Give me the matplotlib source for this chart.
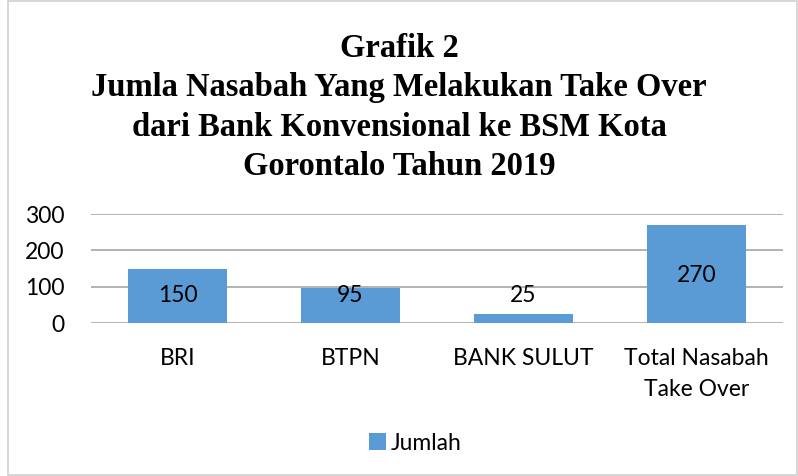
import matplotlib
matplotlib.use("Agg")
import matplotlib.pyplot as plt
from matplotlib.patches import Rectangle

# data
categories = ["BRI", "BTPN", "BANK SULUT", "Total Nasabah\nTake Over"]
jumlah = [150, 95, 25, 270]
label_y = [75, 75, 75, 132]  # where Excel put the data labels
yticks = [0, 100, 200, 300]

plt.rcParams['font.family'] = ['Lato', 'DejaVu Sans']

fig = plt.figure(figsize=(7.98, 4.76), dpi=100)
ax = fig.add_axes([91/798, 1 - 323/476, (783-91)/798, (323-214)/476])

x = range(len(categories))
ax.bar(x, jumlah, width=0.57, color="#5B9BD5", label="Jumlah", zorder=3)
for i, v in enumerate(jumlah):
    ax.text(i, label_y[i], str(v), ha="center", va="center", fontsize=16.5, zorder=4)

ax.set_xlim(-0.5, len(categories) - 0.5)
ax.set_ylim(0, 300)
ax.set_yticks(yticks)
ax.set_xticks(list(x))
ax.set_xticklabels(categories, fontsize=16.5, linespacing=1.6)
ax.tick_params(axis="y", labelsize=16.5, length=0, pad=19)
ax.tick_params(axis="x", length=0, pad=18)
ax.grid(axis="y", color="#A6A6A6", linewidth=1.2, zorder=0)
for s in ax.spines.values():
    s.set_visible(False)

fig.text(0.5, 1 - 33/476, "Grafik 2\nJumla Nasabah Yang Melakukan Take Over\ndari Bank Konvensional ke BSM Kota\nGorontalo Tahun 2019",
         ha="center", va="top", fontsize=23.5, fontweight="bold", family="Liberation Serif", linespacing=1.35)

fig.legend(loc="center", bbox_to_anchor=(0.52, 1 - 443/476), frameon=False, fontsize=16.5,
           handlelength=0.75, handleheight=0.75, handletextpad=0.2)

# chart border
fig.patches.append(Rectangle((8/798, 0.002), 1 - 9/798, 0.995, transform=fig.transFigure,
                             fill=False, edgecolor="#D0D0D0", linewidth=1.2))

fig.savefig("out.png", dpi=100)
